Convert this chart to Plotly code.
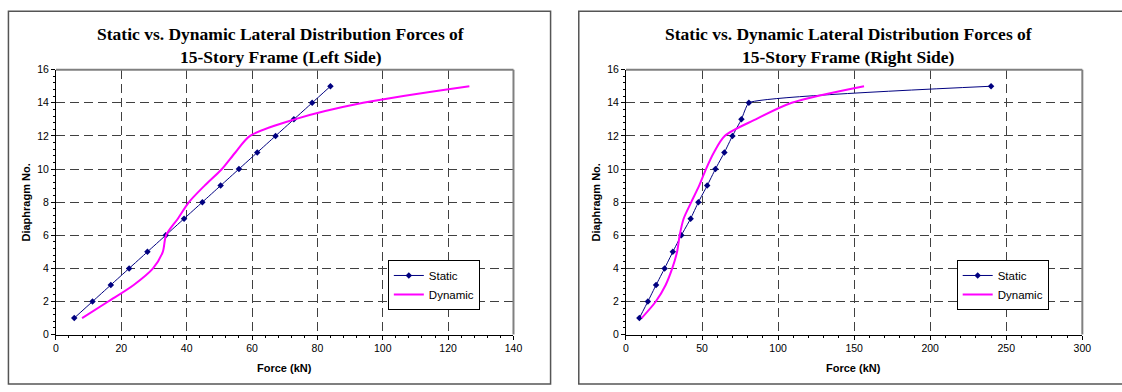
import plotly.graph_objects as go

# ---------------- data ----------------
diaphragm = [1, 2, 3, 4, 5, 6, 7, 8, 9, 10, 11, 12, 13, 14, 15]

left_static = [5.6, 11.2, 16.8, 22.4, 28.0, 33.6, 39.2, 44.8, 50.4, 56.0, 61.6, 67.2, 72.8, 78.4, 84.0]
left_dynamic = [8.0, 16.0, 23.8, 29.7, 32.7, 33.7, 37.3, 40.7, 45.5, 50.8, 54.9, 59.4, 73.0, 94.0, 126.5]

right_static = [8.8, 14.4, 19.8, 25.4, 30.8, 36.4, 42.5, 47.6, 53.4, 58.8, 64.7, 70.0, 75.9, 80.8, 240.0]
right_dynamic = [10.3, 19.6, 26.1, 30.4, 33.6, 35.3, 37.9, 42.9, 48.1, 52.6, 57.8, 64.9, 85.3, 109.0, 156.5]

left_x_ticks = [0, 20, 40, 60, 80, 100, 120, 140]
right_x_ticks = [0, 50, 100, 150, 200, 250, 300]
y_ticks = [0, 2, 4, 6, 8, 10, 12, 14, 16]

left_title = ["Static vs. Dynamic Lateral Distribution Forces of", "15-Story Frame (Left Side)"]
right_title = ["Static vs. Dynamic Lateral Distribution Forces of", "15-Story Frame (Right Side)"]

# ---------------- geometry helpers ----------------
W, H = 1122, 392


def px(x):
    return x / W


def py(y):
    return 1 - y / H


NAVY = "#000080"
MAGENTA = "#FF00FF"
SANS = "Liberation Sans"
SERIF = "Liberation Serif"

fig = go.Figure()

fig.add_trace(go.Scatter(x=left_static, y=diaphragm, name="Static", mode="lines+markers",
                         line=dict(color=NAVY, width=1, shape="spline", smoothing=0.6),
                         marker=dict(symbol="diamond", size=5, color=NAVY),
                         xaxis="x", yaxis="y", legend="legend"))
fig.add_trace(go.Scatter(x=left_dynamic, y=diaphragm, name="Dynamic", mode="lines",
                         line=dict(color=MAGENTA, width=2, shape="spline", smoothing=0.8),
                         xaxis="x", yaxis="y", legend="legend"))
fig.add_trace(go.Scatter(x=right_static, y=diaphragm, name="Static", mode="lines+markers",
                         line=dict(color=NAVY, width=1, shape="spline", smoothing=0.35),
                         marker=dict(symbol="diamond", size=5, color=NAVY),
                         xaxis="x2", yaxis="y2", legend="legend2"))
fig.add_trace(go.Scatter(x=right_dynamic, y=diaphragm, name="Dynamic", mode="lines",
                         line=dict(color=MAGENTA, width=2, shape="spline", smoothing=0.8),
                         xaxis="x2", yaxis="y2", legend="legend2"))


def axis_common():
    return dict(showgrid=True, gridcolor="#404040", gridwidth=1, griddash="9px,5px",
                showline=True, linecolor="black", linewidth=1,
                ticks="outside", ticklen=4, tickcolor="black",
                tickfont=dict(family=SANS, size=10.5, color="black"),
                zeroline=False, fixedrange=True)


ydom = [py(339), py(65.7)]

xa = axis_common()
xa.update(domain=[px(53.5), px(516)], range=[0, 140], tickmode="array", tickvals=left_x_ticks,
          anchor="y", minor=dict(ticks="outside", ticklen=2, tickcolor="black", dtick=4, tick0=0, showgrid=False))
ya = axis_common()
ya.update(domain=ydom, range=[0, 16], tickmode="array", tickvals=y_ticks, anchor="x",
          minor=dict(ticks="outside", ticklen=2, tickcolor="black", dtick=0.4, tick0=0, showgrid=False))
xa2 = axis_common()
xa2.update(domain=[px(629.7), px(1091)], range=[0, 300], tickmode="array", tickvals=right_x_ticks,
           anchor="y2", minor=dict(ticks="outside", ticklen=2, tickcolor="black", dtick=10, tick0=0, showgrid=False))
ya2 = axis_common()
ya2.update(domain=ydom, range=[0, 16], tickmode="array", tickvals=y_ticks, anchor="x2",
           minor=dict(ticks="outside", ticklen=2, tickcolor="black", dtick=0.4, tick0=0, showgrid=False))

legend_common = dict(xanchor="left", yanchor="top", bgcolor="white", bordercolor="black",
                     borderwidth=1, font=dict(family=SANS, size=11.5, color="black"),
                     tracegroupgap=0, itemwidth=30)

shapes = []
# outer chart borders
shapes.append(dict(type="rect", xref="paper", yref="paper", x0=px(5.5), x1=px(553.5), y0=py(390), y1=py(5.5),
                   line=dict(color="#555555", width=1.5), layer="above"))
shapes.append(dict(type="rect", xref="paper", yref="paper", x0=px(582), x1=px(1135), y0=py(390), y1=py(5.5),
                   line=dict(color="#555555", width=1.5), layer="above"))
# plot-area top and right borders (gray)
for xr, yr in (("x", "y"), ("x2", "y2")):
    shapes.append(dict(type="line", xref=xr + " domain", yref=yr + " domain", x0=0, x1=1, y0=1, y1=1,
                       line=dict(color="#808080", width=2), layer="above"))
    shapes.append(dict(type="line", xref=xr + " domain", yref=yr + " domain", x0=1, x1=1, y0=0, y1=1,
                       line=dict(color="#808080", width=2), layer="above"))

annotations = []
for cx, lines in ((281, left_title), (855, right_title)):
    for i, t in enumerate(lines):
        annotations.append(dict(text="<b>%s</b>" % t, xref="paper", yref="paper", x=px(cx), y=py(29 + 23.5 * i),
                                xanchor="center", yanchor="middle", showarrow=False,
                                font=dict(family=SERIF, size=17.5, color="black")))
for cx in (285, 860):
    annotations.append(dict(text="<b>Force (kN)</b>", xref="paper", yref="paper", x=px(cx), y=py(373),
                            xanchor="center", yanchor="middle", showarrow=False,
                            font=dict(family=SANS, size=11, color="black")))
for cx in (23, 599):
    annotations.append(dict(text="<b>Diaphragm No.</b>", xref="paper", yref="paper", x=px(cx), y=py(203),
                            xanchor="center", yanchor="middle", showarrow=False, textangle=-90,
                            font=dict(family=SANS, size=11, color="black")))

fig.update_layout(
    width=W, height=H, margin=dict(l=0, r=0, t=0, b=0),
    paper_bgcolor="white", plot_bgcolor="white",
    xaxis=xa, yaxis=ya, xaxis2=xa2, yaxis2=ya2,
    legend=dict(x=px(389), y=py(262), **legend_common),
    legend2=dict(x=px(964), y=py(262), **legend_common),
    shapes=shapes, annotations=annotations, showlegend=True,
)

fig.write_html("out.html", config={"displayModeBar": False},
               post_script="document.body.style.margin='0';document.body.style.overflow='hidden';")
